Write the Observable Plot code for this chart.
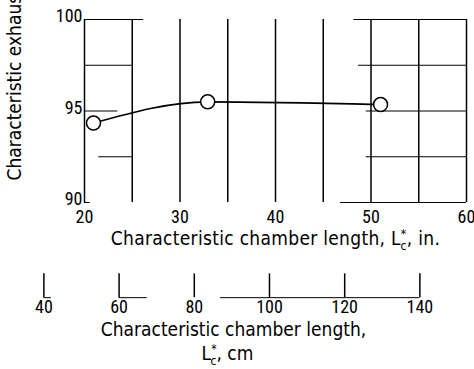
<!DOCTYPE html>
<html><head><meta charset="utf-8">
<script src="https://cdn.jsdelivr.net/npm/d3@7"></script>
<script src="https://cdn.jsdelivr.net/npm/@observablehq/plot@0.6"></script>
<style>body{margin:0;background:#fff}</style>
</head><body><div id="chart"></div>
<script>
// Data
const lengthIn = [20.94, 32.9, 51.0];
const efficiency = [94.34, 95.5, 95.35];
const xTicks = [20, 30, 40, 50, 60];
const yTicks = [90, 95, 100];
const gridX = [20, 25, 30, 35, 40, 45, 50, 55, 60];
const gridHy = [100, 97.5, 95, 92.5, 100, 97.5, 95, 92.5, 90, 90];
const gridHx1 = [20, 20, 20, 21.5, 48.2, 48.7, 49.5, 49.5, 20, 46.8];
const gridHx2 = [26.2, 25, 23.5, 25, 60, 60, 60, 60, 20.6, 60];
const cmTicks = [40, 60, 80, 100, 120, 140];
const cmBaseFrom = [40, 60, 87];
const cmBaseTo = [42, 67.5, 140];
const yTitle = "Characteristic exhaust velocity efficiency, ηc*, percent";
const xTitleIn = "Characteristic chamber length, L*c, in.";
const xTitleCm1 = "Characteristic chamber length,";
const xTitleCm2 = "L*c, cm";

const points = lengthIn.map((x, i) => ({x, y: efficiency[i]}));
const gridH = gridHy.map((y, i) => ({y, x1: gridHx1[i], x2: gridHx2[i]}));
const cmBase = cmBaseFrom.map((a, i) => ({x1: a / 2.54, x2: cmBaseTo[i] / 2.54}));

// y-values (in chart units) for the secondary cm axis, below the frame
const CM_BASE = 84.8, CM_TOP = 86.1;

const numFont = "'Roboto Condensed', 'DejaVu Sans Condensed', sans-serif";
const txtFont = "'DejaVu Sans Condensed', 'DejaVu Sans', sans-serif";

const svg = Plot.plot({
  width: 474, height: 369,
  marginLeft: 84, marginRight: 8, marginTop: 19, marginBottom: 167,
  style: {background: "#fff", color: "#000", fontSize: "18px", fontFamily: numFont},
  x: {domain: [20, 60], ticks: xTicks, tickSize: 0, tickPadding: 8, label: null},
  y: {domain: [90, 100], ticks: yTicks, tickSize: 0, tickPadding: 2, label: null},
  marks: [
    Plot.ruleX(gridX, {x: d => d, y1: 90, y2: 100, stroke: "#000", strokeWidth: 1.5}),
    Plot.ruleY(gridH, {y: "y", x1: "x1", x2: "x2", stroke: "#000", strokeWidth: 1}),
    Plot.line(points, {x: "x", y: "y", curve: "monotone-x", stroke: "#000", strokeWidth: 1.6}),
    Plot.dot(points, {x: "x", y: "y", r: 7, fill: "#fff", stroke: "#000", strokeWidth: 1.5}),
    // secondary (cm) axis
    Plot.ruleX(cmTicks, {x: d => d / 2.54, y1: CM_BASE, y2: CM_TOP, stroke: "#000", strokeWidth: 1.5}),
    Plot.ruleY(cmBase, {y: CM_BASE, x1: "x1", x2: "x2", stroke: "#000", strokeWidth: 1}),
    Plot.text(cmTicks, {x: d => d / 2.54, text: d => String(d), frameAnchor: "bottom", dy: 110, fontSize: 18, fontFamily: numFont}),
    // titles
    Plot.text([xTitleIn], {text: d => d, frameAnchor: "bottom", dy: 42, fontSize: 19, fontFamily: txtFont}),
    Plot.text([xTitleCm1], {text: d => d, frameAnchor: "bottom", dx: -42, dy: 133, fontSize: 19, fontFamily: txtFont}),
    Plot.text([xTitleCm2], {text: d => d, frameAnchor: "bottom", dx: -48, dy: 157, fontSize: 19, fontFamily: txtFont}),
    Plot.text([yTitle], {text: d => d, frameAnchor: "bottom-left", dx: -64, dy: -22, rotate: -90, textAnchor: "start", fontSize: 19, fontFamily: txtFont})
  ]
});

// nudge y tick labels slightly upward, as in the reference
d3.select(svg).selectAll("g[aria-label^='y-axis']").each(function() {
  const tr = this.getAttribute("transform") || "";
  this.setAttribute("transform", tr + " translate(0,-3)");
});

d3.select(svg).selectAll("text").each(function() {
  const t = this.textContent;
  if (t.startsWith("Characteristic chamber length, L")) d3.select(this).attr("letter-spacing", "0.3px");
  if (!t.includes("*c")) return;
  // stacked superscript asterisk and subscript c
  const idx = t.indexOf("*c");
  const a = t.slice(0, idx), b = t.slice(idx + 2);
  const sel = d3.select(this);
  sel.text(null);
  sel.append("tspan").text(a);
  sel.append("tspan").attr("dy", -7).attr("font-size", 12).text("*");
  sel.append("tspan").attr("dx", -6).attr("dy", 12).attr("font-size", 12).text("c");
  sel.append("tspan").attr("dy", -5).text(b);
});

document.getElementById("chart").append(svg);
</script>
</body></html>
